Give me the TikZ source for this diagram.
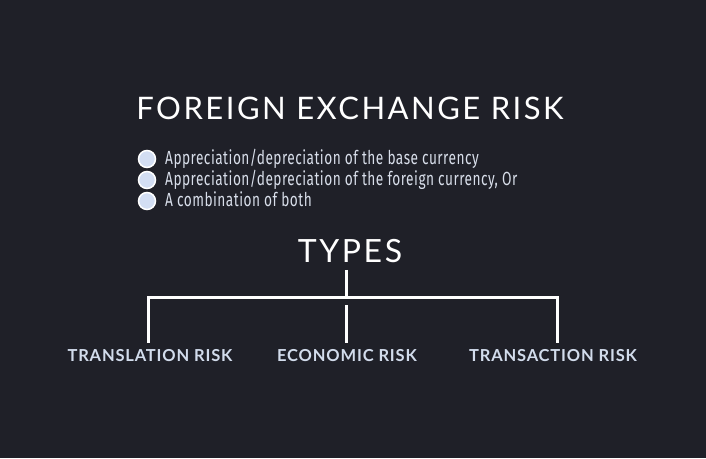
\documentclass[tikz,border=0pt]{standalone}
\usepackage{fontspec}
\setmainfont{Lato}
\newfontfamily\condfont[FakeStretch=0.72, LetterSpace=2.5]{Fira Sans}
\newfontfamily\headfont[LetterSpace=8]{Lato}
\newfontfamily\labelfont[LetterSpace=5]{Lato Bold}

\definecolor{bgdark}{HTML}{1F2028}
\definecolor{bulletblue}{HTML}{D3DEF3}
\definecolor{labelblue}{HTML}{D2DCEC}
\definecolor{textgrey}{HTML}{D8DEEA}

\tikzset{
	heading/.style={text=white, inner sep=0pt},
	bullet/.style={circle, draw=white, line width=1.5pt, fill=bulletblue, minimum size=17pt, inner sep=0pt},
	bullettext/.style={text=textgrey, anchor=base west, inner sep=0pt, font=\condfont\fontsize{19}{19}\selectfont},
	risk/.style={text=labelblue, inner sep=0pt, font=\labelfont\fontsize{16.5}{16.5}\selectfont},
	branch/.style={draw=white, line width=3pt}
}

\begin{document}
\begin{tikzpicture}[x=1pt, y=-1pt]
	\fill[bgdark] (0,0) rectangle (706,458);
	\useasboundingbox (0,0) rectangle (706,458);

	\node[heading, font=\headfont\fontsize{31}{31}\selectfont] (title) at (350,108) {FOREIGN EXCHANGE RISK};

	\node[bullet] (b1) at (147,159) {};
	\node[bullet] (b2) at (147,180) {};
	\node[bullet] (b3) at (147,201) {};
	\node[bullettext] (t1) at (165,164) {Appreciation/depreciation of the base currency};
	\node[bullettext] (t2) at (165,185) {Appreciation/depreciation of the foreign currency, Or};
	\node[bullettext] (t3) at (165,206) {A combination of both};

	\node[heading, font=\headfont\fontsize{32}{32}\selectfont] (types) at (350,251) {TYPES};

	\node[risk] (translation) at (150,356) {TRANSLATION RISK};
	\node[risk] (economic) at (347,356) {ECONOMIC RISK};
	\node[risk] (transaction) at (553,356) {TRANSACTION RISK};

	\coordinate (hub) at (346,297);
	\draw[branch] ([yshift=-7pt]types.south -| hub) -- (hub);
	\draw[branch] ([xshift=-2pt, yshift=7pt]translation.north) |- (hub) -| ([xshift=4pt, yshift=7pt]transaction.north);
	\draw[branch] ([yshift=7pt]economic.north -| hub) -- ++(0,-38);
\end{tikzpicture}
\end{document}
